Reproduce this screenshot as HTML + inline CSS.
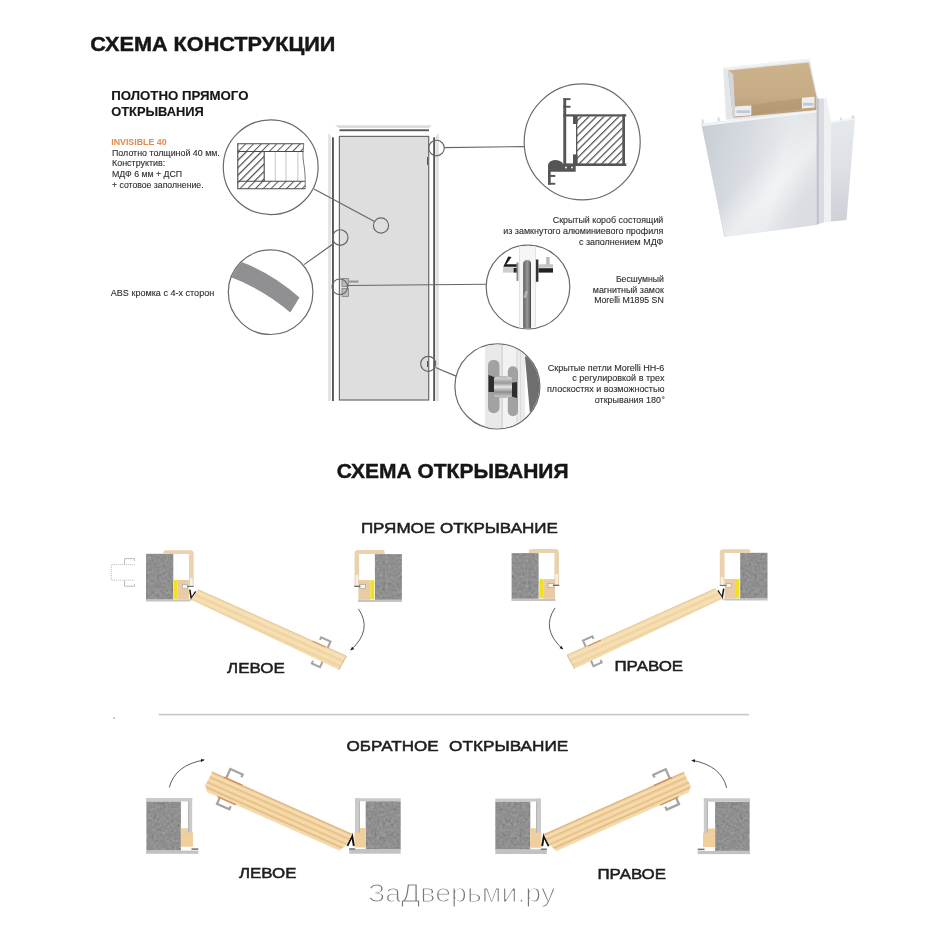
<!DOCTYPE html>
<html><head><meta charset="utf-8">
<style>
html,body{margin:0;padding:0;background:#fff;}
body{width:925px;height:925px;overflow:hidden;position:relative;}
svg{position:absolute;left:0;top:0;will-change:transform;}
text{font-family:"Liberation Sans",sans-serif;}
.b{font-weight:bold;fill:#161616;stroke:#161616;stroke-width:0.45;}
.r{fill:#2e2e2e;stroke:#2e2e2e;stroke-width:0.12;}
</style></head><body>
<svg width="925" height="925" viewBox="0 0 925 925">
<defs>

<linearGradient id="wood" x1="0" y1="0" x2="0" y2="1">
  <stop offset="0" stop-color="#eccb96"/>
  <stop offset="0.3" stop-color="#f3d6a6"/>
  <stop offset="0.55" stop-color="#e9c58e"/>
  <stop offset="0.8" stop-color="#f5dbae"/>
  <stop offset="1" stop-color="#e6c08a"/>
</linearGradient>
</defs>
<!-- Titles -->
<text class="b" x="90.3" y="50.8" font-size="20.5" textLength="245" lengthAdjust="spacingAndGlyphs">СХЕМА КОНСТРУКЦИИ</text>
<text class="b" style="stroke-width:0.15" x="111.2" y="99.9" font-size="13.6" textLength="137.3" lengthAdjust="spacingAndGlyphs">ПОЛОТНО ПРЯМОГО</text>
<text class="b" style="stroke-width:0.15" x="111.2" y="115.5" font-size="13.6" textLength="92.7" lengthAdjust="spacingAndGlyphs">ОТКРЫВАНИЯ</text>
<text x="111.2" y="144.9" font-size="8.8" font-weight="bold" fill="#e8884a" textLength="55.4" lengthAdjust="spacingAndGlyphs">INVISIBLE 40</text>
<text class="r" x="112" y="155.5" font-size="9" textLength="107.8" lengthAdjust="spacingAndGlyphs">Полотно толщиной 40 мм.</text>
<text class="r" x="112" y="166" font-size="9" textLength="53.3" lengthAdjust="spacingAndGlyphs">Конструктив:</text>
<text class="r" x="112" y="177" font-size="9" textLength="70.2" lengthAdjust="spacingAndGlyphs">МДФ 6 мм + ДСП</text>
<text class="r" x="112" y="187.9" font-size="9" textLength="91.6" lengthAdjust="spacingAndGlyphs">+ сотовое заполнение.</text>
<text class="r" x="110.8" y="296" font-size="9" textLength="103.4" lengthAdjust="spacingAndGlyphs">ABS кромка с 4-х сторон</text>

<!-- right texts -->
<g class="r" font-size="9" text-anchor="end">
<text x="663.3" y="223.2" textLength="110.5" lengthAdjust="spacingAndGlyphs">Скрытый короб состоящий</text>
<text x="663.3" y="233.9" textLength="160.1" lengthAdjust="spacingAndGlyphs">из замкнутого алюминиевого профиля</text>
<text x="663.3" y="244.5" textLength="84.3" lengthAdjust="spacingAndGlyphs">с заполнением МДФ</text>
<text x="663.8" y="281.9" textLength="47.9" lengthAdjust="spacingAndGlyphs">Бесшумный</text>
<text x="663.8" y="292.6" textLength="71" lengthAdjust="spacingAndGlyphs">магнитный замок</text>
<text x="663.8" y="302.9" textLength="69.6" lengthAdjust="spacingAndGlyphs">Morelli M1895 SN</text>
<text x="664.4" y="370.6" textLength="116.7" lengthAdjust="spacingAndGlyphs">Скрытые петли Morelli HH-6</text>
<text x="664.4" y="381.3" textLength="92.1" lengthAdjust="spacingAndGlyphs">с регулировкой в трех</text>
<text x="664.4" y="391.8" textLength="117.4" lengthAdjust="spacingAndGlyphs">плоскостях и возможностью</text>
<text x="660.9" y="403" textLength="66.1" lengthAdjust="spacingAndGlyphs">открывания 180</text>
</g><circle cx="663.3" cy="397.6" r="0.9" fill="none" stroke="#2a2a2a" stroke-width="0.7"/><g>
</g>

<!-- door drawing -->
<g>
  <polygon points="334.7,125.2 432,125.2 429,128 339,128" fill="#dcdcdc"/>
  <rect x="339.5" y="129.3" width="89.5" height="1.9" fill="#575757"/>
  <polygon points="328.2,133 331,136 331,401 328.2,401" fill="#e2e2e2"/>
  <rect x="332" y="137.3" width="1.9" height="263.7" fill="#575757"/>
  <rect x="339.4" y="136.4" width="89.3" height="263.6" fill="#dedede" stroke="#6a6a6a" stroke-width="1.2"/>
  <rect x="433.2" y="137.3" width="1.9" height="263.7" fill="#575757"/>
  <polygon points="435.7,136 438.9,133 438.9,401 435.7,401" fill="#e2e2e2"/>
  <!-- hinge marks -->
  <path d="M427.5 157 L427.5 165 M427.5 361 L427.5 367" stroke="#555" stroke-width="1"/>
  <!-- handle -->
  <rect x="342" y="278.5" width="6.5" height="8" fill="#bbb" stroke="#777" stroke-width="0.7"/>
  <rect x="342" y="288.5" width="6.5" height="8" fill="#bbb" stroke="#777" stroke-width="0.7"/>
  <rect x="348.5" y="280.5" width="10" height="2.2" fill="#999"/>
</g>
<!-- callout circles (small) -->
<g fill="none" stroke="#666" stroke-width="1.15">
  <circle cx="381" cy="225.5" r="7.6"/>
  <circle cx="340.2" cy="237.5" r="7.8"/>
  <circle cx="339.8" cy="286.8" r="7.8"/>
  <circle cx="428.2" cy="363.8" r="7.5"/>
  <circle cx="436.5" cy="148" r="7.8"/>
  <line x1="314" y1="189" x2="374.5" y2="221.5"/>
  <line x1="304" y1="264.6" x2="333" y2="244"/>
  <line x1="347.6" y1="285.5" x2="486.5" y2="284.3"/>
  <line x1="435.5" y1="367.5" x2="456.6" y2="376.4"/>
  <line x1="444.3" y1="147.6" x2="523.8" y2="146.6"/>
</g>
<defs>
<pattern id="hatch" patternUnits="userSpaceOnUse" width="5.3" height="5.3" patternTransform="rotate(45)">
  <rect width="5.3" height="5.3" fill="#fff"/>
  <rect x="0" y="0" width="1.2" height="5.3" fill="#4a4a4a"/>
</pattern>
<pattern id="hatch2" patternUnits="userSpaceOnUse" width="5.5" height="5.5" patternTransform="rotate(45)">
  <rect width="5.5" height="5.5" fill="#fff"/>
  <rect x="0" y="0" width="1" height="5.5" fill="#555"/>
</pattern>
<clipPath id="c1"><circle cx="270.7" cy="167.2" r="47"/></clipPath>
<clipPath id="c2"><circle cx="270.6" cy="292.2" r="41.8"/></clipPath>
<clipPath id="c3"><circle cx="582.2" cy="141.9" r="57.5"/></clipPath>
<clipPath id="c4"><circle cx="528" cy="287" r="41.3"/></clipPath>
<clipPath id="c5"><circle cx="497.4" cy="386.4" r="42"/></clipPath>
<linearGradient id="abs" x1="0" y1="0" x2="1" y2="1">
  <stop offset="0" stop-color="#8a8a8e"/>
  <stop offset="0.5" stop-color="#a3a3a7"/>
  <stop offset="1" stop-color="#7e7e82"/>
</linearGradient>
</defs>

<!-- circle 1: panel section -->
<g>
  <circle cx="270.7" cy="167.2" r="47.4" fill="#fff" stroke="#6a6a6a" stroke-width="1.2"/>
  <g>
    <rect x="237.8" y="143.8" width="66" height="7.7" fill="url(#hatch2)"/>
    <rect x="237.8" y="181.2" width="67.3" height="7.5" fill="url(#hatch2)"/>
    <rect x="237.8" y="151.5" width="26.4" height="29.7" fill="url(#hatch)"/>
    <g stroke="#bdbdbd" stroke-width="0.9">
      <line x1="275.3" y1="151.5" x2="275.3" y2="181.2"/>
      <line x1="286" y1="151.5" x2="286" y2="181.2"/>
      <line x1="297.9" y1="151.5" x2="297.9" y2="181.2"/>
    </g>
    <g fill="none" stroke="#4a4a4a" stroke-width="1.1">
      <path d="M304 143.8 L237.8 143.8 L237.8 188.7 L305.2 188.7"/>
      <line x1="237.8" y1="151.5" x2="303.6" y2="151.5"/>
      <line x1="237.8" y1="181.2" x2="305" y2="181.2"/>
      <line x1="264.2" y1="151.5" x2="264.2" y2="181.2"/>
    </g>
    <path d="M303.8 143.8 C303 150 302.5 156 303.5 162 C304.5 168 305.5 175 305.2 188.7" fill="none" stroke="#666" stroke-width="0.9"/>
  </g>
</g>

<!-- circle 2: ABS edge -->
<g>
  <circle cx="270.6" cy="292.2" r="42.3" fill="#fff" stroke="#6a6a6a" stroke-width="1.2"/>
  <g clip-path="url(#c2)">
    <path d="M225 258 L243 262.5 Q273 274 299.5 297.5 L290.3 312.5 Q263 289 228 276 Z" fill="#909092"/>
  </g>
</g>

<!-- circle 3: profile section -->
<g>
  <circle cx="582.2" cy="141.9" r="58" fill="#fff" stroke="#6a6a6a" stroke-width="1.2"/>
  <g fill="#555">
    <rect x="576.6" y="116.3" width="46" height="48.5" fill="url(#hatch)"/>
    <!-- vertical main bar -->
    <rect x="563.3" y="98.2" width="2.9" height="68.3"/>
    <rect x="563.3" y="98.2" width="7.2" height="1.9"/>
    <rect x="563.3" y="105.8" width="7.2" height="1.9"/>
    <!-- top plate -->
    <rect x="563.3" y="114.3" width="63" height="2.2"/>
    <!-- bottom plate -->
    <rect x="566" y="163.4" width="60.3" height="2.6"/>
    <!-- right plate -->
    <rect x="622.3" y="114.3" width="2.7" height="51.7"/>
    <!-- tabs -->
    <rect x="573" y="115.5" width="4.5" height="8.5"/>
    <rect x="573" y="154.4" width="4.5" height="10.4"/>
    <rect x="576" y="116.3" width="1.3" height="48.5"/>
    <!-- blob -->
    <path d="M548 171.7 L548 165 Q549 160.5 555 160 Q560 160 562 162.5 Q564 165 566.5 166 L575.7 166 L575.7 171.7 Z"/>
    <rect x="548" y="171" width="2.7" height="13.7"/>
    <rect x="548" y="175" width="7.3" height="1.9"/>
    <rect x="548" y="182.8" width="7.3" height="1.9"/>
  </g>
  <g fill="#fff"><circle cx="566" cy="167.5" r="0.9"/><circle cx="572" cy="167.5" r="0.9"/></g>
</g>

<!-- circle 4: lock -->
<defs>
<linearGradient id="slot" x1="0" y1="0" x2="1" y2="0">
  <stop offset="0" stop-color="#3a3a3a"/>
  <stop offset="0.18" stop-color="#7a7a7a"/>
  <stop offset="0.55" stop-color="#959595"/>
  <stop offset="0.82" stop-color="#707070"/>
  <stop offset="1" stop-color="#3a3a3a"/>
</linearGradient>
</defs>
<g>
  <circle cx="528" cy="287" r="41.8" fill="#fff" stroke="#6a6a6a" stroke-width="1.2"/>
  <g clip-path="url(#c4)">
    <rect x="519" y="240" width="17" height="95" fill="#f5f5f5"/>
    <rect x="519" y="240" width="1" height="95" fill="#e2e2e2"/>
    <rect x="535" y="240" width="1" height="95" fill="#e2e2e2"/>
    <rect x="523.3" y="260" width="7.7" height="70" rx="3.85" fill="url(#slot)"/>
    <rect x="524.5" y="291" width="2.5" height="7" fill="#b5b5b5" transform="rotate(15 525.7 294.5)"/>
    <!-- left handle -->
    <polygon points="508.2,256.5 511.6,257 506.3,264.3 518,264.3 518,266.8 503.3,266.8" fill="#1c1c1c"/>
    <rect x="502.9" y="267.2" width="10.7" height="5.4" fill="#cdcdcd"/>
    <rect x="513.6" y="267.8" width="3.4" height="4.8" fill="#262626"/>
    <rect x="516.5" y="262.4" width="1.9" height="18.5" fill="#8a8a8a"/>
    <!-- right handle -->
    <rect x="546.2" y="257" width="3.4" height="9.3" fill="#b8b8b8"/>
    <rect x="538.4" y="264.3" width="14.6" height="3.4" fill="#c4c4c4"/>
    <rect x="538.4" y="268.2" width="14.6" height="4.4" fill="#222"/>
    <rect x="535.9" y="259.5" width="2.5" height="22.3" fill="#333"/>
  </g>
</g>

<!-- circle 5: hinge -->
<defs>
<linearGradient id="hmet" x1="0" y1="0" x2="0" y2="1">
  <stop offset="0" stop-color="#d9d9d9"/>
  <stop offset="0.3" stop-color="#9a9a9a"/>
  <stop offset="0.5" stop-color="#e6e6e6"/>
  <stop offset="0.75" stop-color="#8e8e8e"/>
  <stop offset="1" stop-color="#c8c8c8"/>
</linearGradient>
</defs>
<g>
  <circle cx="497.4" cy="386.4" r="42.5" fill="#fff" stroke="#6a6a6a" stroke-width="1.2"/>
  <g clip-path="url(#c5)">
    <rect x="485" y="340" width="17" height="95" fill="#e9e9e9"/>
    <rect x="502" y="340" width="15" height="95" fill="#f2f2f2"/>
    <rect x="517" y="340" width="8" height="95" fill="#ebebeb"/>
    <rect x="501.5" y="340" width="1.2" height="95" fill="#cfcfcf"/>
    <rect x="516.5" y="340" width="1" height="95" fill="#d3d3d3"/>
    <rect x="520" y="340" width="0.8" height="95" fill="#d8d8d8"/>
    <polygon points="525,357 545,335 545,440 530,414" fill="#6e6e6e"/>
    <polygon points="530,414 545,398 545,440" fill="#d9d9d9"/>
    <rect x="488" y="359.7" width="11.5" height="53.5" rx="5.7" fill="#a2a2a2"/>
    <rect x="507.8" y="366.3" width="10.2" height="50" rx="5.1" fill="#a2a2a2"/>
    <polygon points="488.5,375 497,378 497,392 488.5,392" fill="#2e2e2e"/>
    <polygon points="510,383 517,382 517,398 510,396" fill="#2e2e2e"/>
    <rect x="494" y="377" width="18" height="20" rx="1.5" fill="url(#hmet)"/>
    <rect x="499" y="376" width="8" height="2" fill="#bdbdbd"/>
    <rect x="499" y="396" width="8" height="2" fill="#bdbdbd"/>
  </g>
</g>
<defs>
<linearGradient id="alu" x1="0" y1="0" x2="1" y2="0.3">
  <stop offset="0" stop-color="#c6ccd4"/>
  <stop offset="0.4" stop-color="#d6dae0"/>
  <stop offset="0.75" stop-color="#e6e9ec"/>
  <stop offset="1" stop-color="#dadde2"/>
</linearGradient>
<linearGradient id="aluHi" x1="0" y1="0" x2="1" y2="1">
  <stop offset="0" stop-color="#fff" stop-opacity="0"/>
  <stop offset="0.45" stop-color="#fff" stop-opacity="0"/>
  <stop offset="0.62" stop-color="#fff" stop-opacity="0.45"/>
  <stop offset="0.8" stop-color="#fff" stop-opacity="0"/>
  <stop offset="1" stop-color="#fff" stop-opacity="0"/>
</linearGradient>
<linearGradient id="alu2" x1="0" y1="0" x2="0" y2="1">
  <stop offset="0" stop-color="#e6e9ec"/>
  <stop offset="0.5" stop-color="#dde0e5"/>
  <stop offset="1" stop-color="#cdd1d8"/>
</linearGradient>
<linearGradient id="mdf" x1="0" y1="0" x2="0" y2="1">
  <stop offset="0" stop-color="#ccb38c"/>
  <stop offset="0.6" stop-color="#c6ac85"/>
  <stop offset="1" stop-color="#b89c76"/>
</linearGradient>
</defs>
<g>
  <!-- back box outline -->
  <polygon points="723.1,67.5 809.7,58.8 817.5,97.7 817.5,112 734.8,119.5 726,119.5" fill="#e3e6ea"/>
  <polygon points="723.1,67.5 809.7,58.8 810,61 724,69.5" fill="#f2f3f5"/>
  <polygon points="728,70.4 808.7,62.6 816.5,96.7 816.5,110 734.8,117.5 733,117.5" fill="url(#mdf)"/>
  <polygon points="728,70.4 733,117.5 734.8,117.5 734.8,106 733.2,74" fill="#d3d7dd"/>
  <polygon points="751.3,105 801.9,98 801.9,108.4 751.3,115.2" fill="#ae936d" opacity="0.55"/>
  <polygon points="734.8,106.4 751.3,105.4 751.3,115.2 734.8,116.5" fill="#eceef1"/>
  <rect x="736.5" y="110.3" width="13.5" height="2.8" fill="#c3c8cf"/>
  <polygon points="801.9,97.7 814.5,96.8 814.5,107.5 801.9,108.4" fill="#eceef1"/>
  <rect x="803" y="102.8" width="10.5" height="2.8" fill="#c3c8cf"/>
  <!-- front panel -->
  <polygon points="701.4,124 817.2,110.2 817.2,225 724.4,237" fill="url(#alu)"/>
  <polygon points="701.4,124 817.2,110.2 817.2,225 724.4,237" fill="url(#aluHi)"/>
  <polygon points="701.4,124 817.2,110.2 817.2,112.2 702,126.2" fill="#f3f4f6"/>
  <polygon points="701.4,124 702,126.2 724.8,237 724.4,237" fill="#c9ced6"/>
  <rect x="701.5" y="119.5" width="2.5" height="5" fill="#dfe2e6"/>
  <rect x="717" y="117.5" width="3" height="4" fill="#dfe2e6"/>
  <!-- right narrow face -->
  <polygon points="816.7,98.5 824,98.5 824,222.4 816.7,224.5" fill="#d9dde2"/>
  <polygon points="816.7,98.5 818.8,98.5 818.8,224 816.7,224.5" fill="#bfc4cb"/>
  <polygon points="824,98.5 826.5,98.2 831,121.3 831,221.5 824,222.4" fill="#eef0f2"/>
  <!-- right panel -->
  <polygon points="831,121.3 855.1,117.4 846.5,220 831,221.5" fill="url(#alu2)"/>
  <polygon points="831,121.3 855.1,117.4 855,119.3 831,123.2" fill="#f5f6f8"/>
  <rect x="840" y="117.5" width="2" height="3" fill="#dcdfe3"/>
  <rect x="851.5" y="115.5" width="3" height="3" fill="#dcdfe3"/>
</g>
<defs>
<filter id="conc" x="0" y="0" width="100%" height="100%" color-interpolation-filters="sRGB">
  <feTurbulence type="fractalNoise" baseFrequency="0.35" numOctaves="4" seed="7" result="n"/>
  <feColorMatrix in="n" type="matrix" values="0.33 0.33 0.33 0 0  0.33 0.33 0.33 0 0  0.33 0.33 0.33 0 0  0 0 0 0 1" result="g"/>
  <feComponentTransfer in="g" result="g2">
    <feFuncR type="linear" slope="0.32" intercept="0.405"/>
    <feFuncG type="linear" slope="0.32" intercept="0.405"/>
    <feFuncB type="linear" slope="0.32" intercept="0.405"/>
  </feComponentTransfer>
  <feComposite in="g2" in2="SourceAlpha" operator="in"/>
</filter>
<marker id="ah" viewBox="0 0 10 10" refX="8" refY="5" markerWidth="5" markerHeight="5" orient="auto-start-reverse">
  <path d="M0 1 L10 5 L0 9 Z" fill="#222"/>
</marker>
<pattern id="woodstr" patternUnits="userSpaceOnUse" width="200" height="16">
  <rect width="200" height="16" fill="#f4dbab"/>
  <rect y="2.5" width="200" height="1.5" fill="#f8e3bd"/>
  <rect y="5.5" width="200" height="1" fill="#ecce9c"/>
  <rect y="8" width="200" height="1.8" fill="#f7e0b6"/>
  <rect y="11.5" width="200" height="1" fill="#eacb98"/>
  <rect y="13.5" width="200" height="1.5" fill="#f6dcae"/>
</pattern>
<pattern id="woodstr2" patternUnits="userSpaceOnUse" width="200" height="21">
  <rect width="200" height="21" fill="#f2d29e"/>
  <rect y="18.5" width="200" height="1.6" fill="#f7ddb0"/>
  <rect y="0" width="200" height="0.9" fill="#d9b07a"/>
  <rect y="2.5" width="200" height="1.6" fill="#f8e0b4"/>
  <rect y="5.4" width="200" height="0.8" fill="#dcb27a"/>
  <rect y="7.8" width="200" height="1.6" fill="#f7ddaf"/>
  <rect y="11" width="200" height="0.8" fill="#ddb47b"/>
  <rect y="13" width="200" height="1.6" fill="#f6dcae"/>
  <rect y="16.1" width="200" height="0.9" fill="#d9b07a"/>
</pattern>
</defs>

<!-- straight-opening diagram (left version) -->
<g id="dStraight">
  <!-- hinge-side block -->
  <rect x="146" y="553.8" width="27.3" height="45.8" fill="#000" filter="url(#conc)"/>
  <rect x="146" y="599.5" width="44" height="2" fill="#c4c4c4"/>
  <path d="M163.2 554.1 L163.2 552.5 Q163.2 550.2 165.5 550.2 L190 550.2 Q193.7 550.2 193.7 553.5 L193.7 586.5 L188.9 586.5 L188.9 554.1 Z" fill="#ebd2ae"/>
  <rect x="190" y="578" width="2.6" height="8" fill="#f1f1f1"/>
  <rect x="177.5" y="580" width="11.4" height="19.5" fill="#e9cca4"/>
  <rect x="174" y="580" width="3.5" height="18.8" fill="#f2e022"/>
  <rect x="182.4" y="584.6" width="4.8" height="3.9" fill="#f6f6f6" stroke="#9a9a9a" stroke-width="0.5"/>
  <rect x="187.2" y="585.9" width="6.5" height="1" fill="#666"/>
  <path d="M189.8 589.7 L191.3 598.6 L195.7 591.5" fill="none" stroke="#111" stroke-width="1.5"/>
  <!-- latch-side block -->
  <rect x="374.9" y="554.1" width="27" height="45.7" fill="#000" filter="url(#conc)"/>
  <rect x="358" y="599.8" width="44" height="2.2" fill="#c4c4c4"/>
  <path d="M384.7 554.1 L384.7 552.5 Q384.7 549.9 382.4 549.9 L358 549.9 Q354.5 549.9 354.5 553.4 L354.5 586.5 L359.1 586.5 L359.1 554.1 Z" fill="#ebd2ae"/>
  <rect x="355.6" y="575" width="2.5" height="10" fill="#f1f1f1"/>
  <rect x="358.4" y="580.1" width="11.9" height="19.7" fill="#e9cca4"/>
  <rect x="370.3" y="580.1" width="3.9" height="19" fill="#f2e022"/>
  <rect x="359.8" y="584.4" width="5.6" height="4.2" fill="#f6f6f6" stroke="#888" stroke-width="0.5"/>
  <rect x="354.1" y="585.8" width="6.4" height="1" fill="#555"/>
  <!-- leaf -->
  <g transform="translate(197.9,589.5) rotate(24.15)">
    <polygon points="0,0 162.8,0 161.5,15.5 -2.5,12.1" fill="url(#woodstr)"/>
    <path d="M162.8 0 L161.5 15.5" stroke="#d6b283" stroke-width="0.8"/>
    <path d="M0 0 L162.8 0" stroke="#d9b483" stroke-width="0.6"/>
    <g fill="none" stroke="#a4a4a4" stroke-width="2">
      <path d="M132 -4 L132 -6.8 L142.3 -6.8 L142.3 0"/>
      <path d="M134.2 18 L134.2 20.8 L143.2 20.8 L143.2 15"/>
    </g>
    <rect x="126" y="-0.3" width="14" height="1" fill="#cf8f5e"/>
  </g>
  <!-- arrow -->
  <path d="M358.4 608.9 Q373 630 350.8 650" fill="none" stroke="#333" stroke-width="0.8" marker-end="url(#ah)"/>
</g>
<!-- ghost bracket (left only) -->
<g fill="none" stroke="#9a9a9a" stroke-width="0.8" stroke-dasharray="0.9,1.1">
  <path d="M134.7 564.6 L111.3 564.6 L111.3 580.2 L134.7 580.2"/>
</g>
<g fill="none" stroke="#b5b5b5" stroke-width="0.9">
  <path d="M124.5 564.3 L124.5 558.6 L134.5 558.6 L134.5 561"/>
  <path d="M124.5 580.5 L124.5 586.2 L134.5 586.2 L134.5 584"/>
</g>
<use href="#dStraight" transform="matrix(-1,0,0,1,913.5,-1)"/>

<!-- reverse-opening diagram (left version) -->
<g id="dReverse">
  <!-- hinge-left block -->
  <rect x="146.4" y="801.4" width="34.5" height="49.2" fill="#000" filter="url(#conc)"/>
  <rect x="146" y="798" width="46.2" height="3.4" fill="#c9c9c9"/>
  <rect x="188" y="798" width="4.2" height="37.4" fill="#cacaca"/>
  <rect x="188" y="801" width="1" height="34" fill="#b5b5b5"/>
  <path d="M180.9 828.2 L188 828.2 L188 832.5 L193 832.5 L193 846.8 L180.9 846.8 Z" fill="#efcf9c"/>
  <rect x="146" y="850.6" width="52.3" height="3.2" fill="#c2c2c2"/>
  <rect x="191.5" y="848.3" width="6.8" height="1.6" fill="#777"/>
  <!-- right block -->
  <rect x="365.7" y="801.2" width="35" height="48.2" fill="#000" filter="url(#conc)"/>
  <rect x="355" y="798.3" width="45.7" height="2.9" fill="#c9c9c9"/>
  <rect x="355" y="798.3" width="4.9" height="37" fill="#cacaca"/>
  <rect x="358.9" y="801" width="1" height="34" fill="#b5b5b5"/>
  <path d="M365.7 828 L360 828 L360 832.5 L354.5 832.5 L354.5 847.4 L365.7 847.4 Z" fill="#efcf9c"/>
  <rect x="349.2" y="849" width="51.5" height="4.7" fill="#c2c2c2"/>
  <rect x="349.2" y="848.2" width="6" height="1.5" fill="#777"/>
  <path d="M347.4 845.8 L352.2 835.9 L353.8 845.8" fill="none" stroke="#111" stroke-width="1.9"/>
  <!-- leaf -->
  <g transform="translate(212.1,771.8) rotate(24)">
    <polygon points="0,0 153.5,0 153,9 151.5,14 148.5,20.3 3.5,20.5 -1,15 0,8" fill="url(#woodstr2)"/>
    <path d="M0 0 L153.5 0" stroke="#d5ae7c" stroke-width="0.6"/>
    <g fill="none" stroke="#a4a4a4" stroke-width="2.3">
      <path d="M15.5 0 L15.5 -10 L29 -10 L29 -7"/>
      <path d="M17.5 20.5 L17.5 27.3 L31 27.3 L31 24"/>
    </g>
    <rect x="13" y="-0.7" width="20" height="1.4" fill="#d08f5c"/>
    <rect x="15" y="19.8" width="20" height="1.4" fill="#d08f5c"/>
  </g>
  <path d="M169.3 787.5 Q175 765 204 760" fill="none" stroke="#333" stroke-width="0.8" marker-end="url(#ah)"/>
</g>
<use href="#dReverse" transform="matrix(-1,0,0,1,896,0.3)"/>

<!-- section titles -->
<text class="b" x="336.7" y="478.2" font-size="21" textLength="231.8" lengthAdjust="spacingAndGlyphs">СХЕМА ОТКРЫВАНИЯ</text>
<text x="360.9" y="533.3" font-size="15.2" fill="#1e1e1e" stroke="#1e1e1e" stroke-width="0.5" textLength="197" lengthAdjust="spacingAndGlyphs">ПРЯМОЕ ОТКРЫВАНИЕ</text>
<text x="227.1" y="673.4" font-size="15.1" fill="#1e1e1e" stroke="#1e1e1e" stroke-width="0.5" textLength="57.8" lengthAdjust="spacingAndGlyphs">ЛЕВОЕ</text>
<text x="614.4" y="671.2" font-size="15.1" fill="#1e1e1e" stroke="#1e1e1e" stroke-width="0.5" textLength="68.7" lengthAdjust="spacingAndGlyphs">ПРАВОЕ</text>
<rect x="158.8" y="713.8" width="590.2" height="1.6" fill="#c9c9c9"/>
<text x="346.5" y="750.6" font-size="14.6" fill="#1e1e1e" stroke="#1e1e1e" stroke-width="0.5" textLength="92.1" lengthAdjust="spacingAndGlyphs">ОБРАТНОЕ</text>
<text x="449" y="750.6" font-size="14.6" fill="#1e1e1e" stroke="#1e1e1e" stroke-width="0.5" textLength="119.3" lengthAdjust="spacingAndGlyphs">ОТКРЫВАНИЕ</text>
<text x="239" y="878.3" font-size="15.1" fill="#1e1e1e" stroke="#1e1e1e" stroke-width="0.5" textLength="57.5" lengthAdjust="spacingAndGlyphs">ЛЕВОЕ</text>
<text x="597.4" y="878.6" font-size="15.1" fill="#1e1e1e" stroke="#1e1e1e" stroke-width="0.5" textLength="68.6" lengthAdjust="spacingAndGlyphs">ПРАВОЕ</text>
<!-- watermark -->
<text x="367.9" y="902.3" font-size="25.5" fill="#777" stroke="#fff" stroke-width="1.1" textLength="187.3" lengthAdjust="spacingAndGlyphs">ЗаДверьми.ру</text>
<circle cx="114" cy="718" r="0.8" fill="#999"/>
</svg>
</body></html>
